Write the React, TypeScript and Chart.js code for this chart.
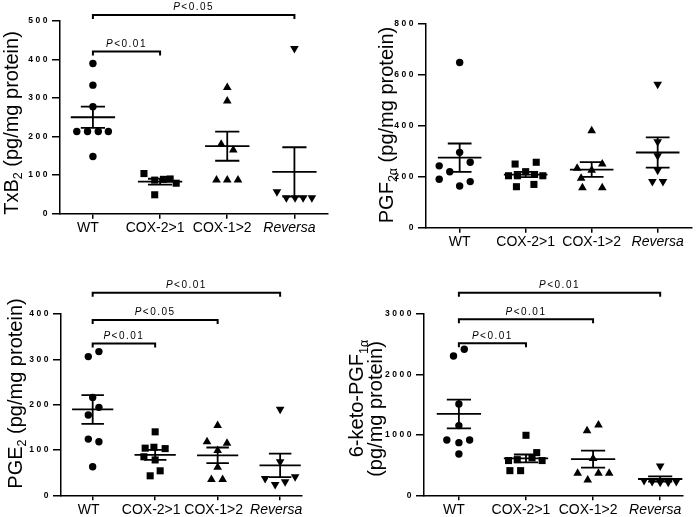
import React, { useEffect, useRef } from 'react';
import { Chart, registerables, LinearScale } from 'chart.js';

Chart.register(...registerables);

class SpacedLinearScale extends LinearScale {
  static id = 'spacedLinear';
  static defaults = { ...(LinearScale as any).defaults };
  drawLabels(area: any) {
    const ctx = (this as any).ctx;
    ctx.save();
    ctx.letterSpacing = '2.5px';
    super.drawLabels(area);
    ctx.restore();
  }
}
Chart.register(SpacedLinearScale as any);

const FONT = '"Liberation Sans", Arial, Helvetica, sans-serif';

// ---------- categories ----------
const groups = ['WT', 'COX-2>1', 'COX-1>2', 'Reversa'];

// ---------- TxB2 ----------
const txb2WT = [389, 333, 277, 213, 213, 213, 213, 148];
const txb2WTDx = [0, 0, 0, -0.24, -0.08, 0.08, 0.23, 0];
const txb2C21 = [104, 87, 89, 90, 79, 49];
const txb2C21Dx = [-0.24, -0.08, 0.05, 0.15, 0.24, -0.08];
const txb2C12 = [327, 292, 180, 165, 87, 87, 87];
const txb2C12Dx = [0, 0, -0.09, 0.09, -0.16, 0, 0.16];
const txb2Rev = [428, 57, 41, 41, 41, 41];
const txb2RevDx = [0, -0.26, -0.12, 0.01, 0.13, 0.26];
const txb2Sig = [[0, 1, 420, '<0.01'], [0, 3, 515, '<0.05']];

// ---------- PGF2a ----------
const pgfWT = [649, 296, 257, 243, 220, 190, 181, 164];
const pgfWTDx = [0, 0, 0.16, -0.31, -0.15, -0.31, 0.16, 0];
const pgfC21 = [257, 250, 220, 209, 204, 204, 204, 170, 161];
const pgfC21Dx = [0.16, -0.16, 0, 0.135, -0.26, -0.125, 0.26, 0.125, -0.14];
const pgfC12 = [381, 250, 233, 226, 194, 157, 157];
const pgfC12Dx = [0, 0.16, -0.22, 0, -0.16, -0.14, 0.16];
const pgfRev = [563, 338, 283, 226, 181, 181];
const pgfRevDx = [0, 0, 0, 0, -0.08, 0.08];
const pgfSig: any[] = [];

// ---------- PGE2 ----------
const pgeWT = [317, 306, 216, 194, 177, 124, 118, 63];
const pgeWTDx = [0.1, -0.07, 0, 0.1, -0.07, -0.07, 0.1, 0];
const pgeC21 = [140, 106, 104, 103, 85, 78, 54, 43];
const pgeC21Dx = [0, -0.02, -0.16, 0.16, -0.18, 0, 0.08, -0.08];
const pgeC12 = [154, 118, 115, 99, 62, 35, 35];
const pgeC12Dx = [0, -0.17, 0.15, 0, 0, -0.1, 0.08];
const pgeRev = [190, 74, 41, 37, 30, 24];
const pgeRevDx = [0, 0, 0.24, -0.24, 0.08, -0.08];
const pgeSig = [[0, 1, 335, '<0.01'], [0, 2, 387, '<0.05'], [0, 3, 447, '<0.01']];

// ---------- 6-keto-PGF1a ----------
const ketoWT = [2416, 2305, 1511, 1153, 916, 916, 871, 684];
const ketoWTDx = [0.08, -0.08, 0, 0, -0.18, 0.16, 0, 0];
const ketoC21 = [993, 706, 620, 590, 575, 575, 408, 408];
const ketoC21Dx = [0, 0.16, 0.09, -0.13, -0.26, 0.24, -0.24, -0.08];
const ketoC12 = [1164, 1070, 607, 364, 364, 364, 254];
const ketoC12Dx = [0.08, -0.09, 0, -0.23, 0.08, 0.24, -0.08];
const ketoRev = [485, 245, 230, 215, 215, 230];
const ketoRevDx = [0, -0.24, -0.12, 0, 0.12, 0.24];
const ketoSig = [[0, 1, 2515, '<0.01'], [0, 2, 2912, '<0.01'], [0, 3, 3352, '<0.01']];

// ---------- titles ----------
const txb2Title = [[['TxB', 0], ['2', 1], [' (pg/mg protein)', 0]]];
const pgfTitle = [[['PGF', 0], ['2\u03b1', 1], [' (pg/mg protein)', 0]]];
const pgeTitle = [[['PGE', 0], ['2', 1], [' (pg/mg protein)', 0]]];
const ketoTitle = [[['6-keto-PGF', 0], ['1\u03b1', 1]], [['(pg/mg protein)', 0]]];

const shapes = ['circle', 'rect', 'triangle', 'triangle'];
const rotations = [0, 0, 0, 180];
const radii = [3.7, 5, 5, 5];

const Y_W = 40;
const X_H = 30;

const panels = [
  {
    key: 'txb2', box: { left: 0, top: 0, width: 345, height: 250 },
    area: { left: 60, top: 20.7, right: 328, bottom: 213.7 },
    xMin: -0.49, xMax: 3.5, yMax: 500, yStep: 100, labelOffset: -5,
    values: [txb2WT, txb2C21, txb2C12, txb2Rev], dx: [txb2WTDx, txb2C21Dx, txb2C12Dx, txb2RevDx],
    sig: txb2Sig, title: txb2Title, titlePos: [[17.5, 123]],
  },
  {
    key: 'pgf', box: { left: 345, top: 0, width: 352, height: 250 },
    area: { left: 426, top: 24, right: 695, bottom: 227.7 },
    xMin: -0.51, xMax: 3.52, yMax: 800, yStep: 200, labelOffset: 0,
    values: [pgfWT, pgfC21, pgfC12, pgfRev], dx: [pgfWTDx, pgfC21Dx, pgfC12Dx, pgfRevDx],
    sig: pgfSig, title: pgfTitle, titlePos: [[47.7, 125]],
  },
  {
    key: 'pge', box: { left: 0, top: 250, width: 340, height: 267 },
    area: { left: 61, top: 314, right: 302, bottom: 495.3 },
    xMin: -0.507, xMax: 3.35, yMax: 400, yStep: 100, labelOffset: -4,
    values: [pgeWT, pgeC21, pgeC12, pgeRev], dx: [pgeWTDx, pgeC21Dx, pgeC12Dx, pgeRevDx],
    sig: pgeSig, title: pgeTitle, titlePos: [[21.5, 143.5]],
  },
  {
    key: 'keto', box: { left: 340, top: 250, width: 357, height: 267 },
    area: { left: 424, top: 314, right: 683, bottom: 495.3 },
    xMin: -0.52, xMax: 3.34, yMax: 3000, yStep: 1000, labelOffset: -5,
    values: [ketoWT, ketoC21, ketoC12, ketoRev], dx: [ketoWTDx, ketoC21Dx, ketoC12Dx, ketoRevDx],
    sig: ketoSig, title: ketoTitle, titlePos: [[23, 148.5], [41.7, 159]],
  },
];

function stats(vals: number[]) {
  const n = vals.length;
  const mean = vals.reduce((a, b) => a + b, 0) / n;
  const sd = Math.sqrt(vals.reduce((a, b) => a + (b - mean) * (b - mean), 0) / (n - 1));
  return { mean, sem: sd / Math.sqrt(n) };
}

function makeOverlay(p: any) {
  return {
    id: 'overlay_' + p.key,
    afterDatasetsDraw(chart: any) {
      const { ctx } = chart;
      const x = chart.scales.x;
      const y = chart.scales.y;
      ctx.save();
      ctx.strokeStyle = '#000';
      ctx.lineCap = 'butt';
      // mean ± SEM
      p.values.forEach((vals: number[], i: number) => {
        const { mean, sem } = stats(vals);
        const cx = x.getPixelForValue(i);
        const hw = x.getPixelForValue(i + 0.33) - cx;
        const cw = x.getPixelForValue(i + 0.18) - cx;
        const ym = y.getPixelForValue(mean);
        const yt = y.getPixelForValue(mean + sem);
        const yb = y.getPixelForValue(mean - sem);
        ctx.lineWidth = 1.8;
        ctx.beginPath();
        ctx.moveTo(cx - hw, ym); ctx.lineTo(cx + hw, ym);
        ctx.moveTo(cx - cw, yt); ctx.lineTo(cx + cw, yt);
        ctx.moveTo(cx - cw, yb); ctx.lineTo(cx + cw, yb);
        ctx.moveTo(cx, yt); ctx.lineTo(cx, yb);
        ctx.stroke();
      });
      // significance brackets
      p.sig.forEach((s: any[]) => {
        const [a, b, v, lbl] = s;
        const x1 = x.getPixelForValue(a);
        const x2 = x.getPixelForValue(b);
        const yy = y.getPixelForValue(v);
        ctx.lineWidth = 2;
        ctx.beginPath();
        ctx.moveTo(x1, yy + 4); ctx.lineTo(x1, yy); ctx.lineTo(x2, yy); ctx.lineTo(x2, yy + 4);
        ctx.stroke();
        ctx.fillStyle = '#000';
        ctx.textBaseline = 'alphabetic';
        ctx.textAlign = 'left';
        ctx.letterSpacing = '1.5px';
        ctx.font = `italic 10px ${FONT}`;
        const wP = ctx.measureText('P').width;
        ctx.font = `10px ${FONT}`;
        const wR = ctx.measureText(lbl).width;
        const start = (x1 + x2) / 2 - (wP + wR) / 2;
        ctx.font = `italic 10px ${FONT}`;
        ctx.fillText('P', start, yy - 4.5);
        ctx.font = `10px ${FONT}`;
        ctx.fillText(lbl, start + wP, yy - 4.5);
        ctx.letterSpacing = '0px';
      });
      ctx.restore();
    },
    afterDraw(chart: any) {
      const { ctx } = chart;
      p.title.forEach((line: any[], li: number) => {
        const [bx, cy] = p.titlePos[li];
        ctx.save();
        ctx.translate(bx, cy);
        ctx.rotate(-Math.PI / 2);
        ctx.fillStyle = '#000';
        ctx.textBaseline = 'alphabetic';
        ctx.textAlign = 'left';
        const fonts = [`20px ${FONT}`, `12.5px ${FONT}`];
        let total = 0;
        const widths = line.map(([t, sub]: any) => {
          ctx.font = fonts[sub];
          const w = ctx.measureText(t).width;
          total += w;
          return w;
        });
        let cur = -total / 2;
        line.forEach(([t, sub]: any, k: number) => {
          ctx.font = fonts[sub];
          ctx.fillText(t, cur, sub ? 4.5 : 0);
          cur += widths[k];
        });
        ctx.restore();
      });
    },
  };
}

function Panel({ p }: { p: any }) {
  const ref = useRef<HTMLCanvasElement>(null);
  useEffect(() => {
    const canvas = ref.current!;
    const { box, area } = p;
    const datasets = groups.map((g, i) => ({
      label: g,
      data: p.values[i].map((v: number, j: number) => ({ x: i + p.dx[i][j], y: v })),
      pointStyle: shapes[i],
      rotation: rotations[i],
      pointRadius: radii[i],
      pointHoverRadius: radii[i],
      backgroundColor: '#000',
      borderColor: '#000',
      pointBorderWidth: 0,
      borderWidth: 0,
      showLine: false,
      clip: false,
    }));
    const chart = new Chart(canvas, {
      type: 'scatter',
      data: { datasets },
      options: {
        responsive: false,
        animation: false,
        events: [],
        layout: {
          padding: {
            left: area.left - box.left - Y_W,
            top: area.top - box.top,
            right: box.left + box.width - area.right,
            bottom: box.top + box.height - area.bottom - X_H,
          },
        },
        plugins: { legend: { display: false }, tooltip: { enabled: false }, title: { display: false } },
        scales: {
          x: {
            type: 'linear',
            min: p.xMin,
            max: p.xMax,
            afterBuildTicks: (s: any) => { s.ticks = groups.map((_, i) => ({ value: i })); },
            afterFit: (s: any) => { s.height = X_H; },
            ticks: {
              autoSkip: false,
              maxRotation: 0,
              padding: 1,
              labelOffset: p.labelOffset,
              color: '#000',
              callback: (_v: any, i: number) => groups[i],
              font: (c: any) => ({ family: FONT, size: 14, style: groups[c.index] === 'Reversa' ? 'italic' : 'normal' }),
            },
            grid: { drawOnChartArea: false, drawTicks: true, tickLength: 5, color: '#000', lineWidth: 1.5 },
            border: { display: true, color: '#000', width: 1.5 },
          },
          y: {
            type: 'spacedLinear' as any,
            min: 0,
            max: p.yMax,
            afterFit: (s: any) => { s.width = Y_W; },
            ticks: {
              stepSize: p.yStep,
              padding: 2,
              color: '#000',
              callback: (v: any) => String(v),
              font: { family: FONT, size: 8.5, weight: 'bold' },
            },
            grid: { drawOnChartArea: false, drawTicks: true, tickLength: 8, color: '#000', lineWidth: 1.5 },
            border: { display: true, color: '#000', width: 1.5 },
          },
        },
      },
      plugins: [makeOverlay(p)],
    } as any);
    return () => chart.destroy();
  }, [p]);
  return (
    <canvas
      ref={ref}
      width={p.box.width}
      height={p.box.height}
      style={{ position: 'absolute', left: p.box.left, top: p.box.top, width: p.box.width, height: p.box.height, display: 'block' }}
    />
  );
}

export default function App() {
  return (
    <div style={{ position: 'absolute', left: 0, top: 0, width: 697, height: 517, background: '#fff', overflow: 'hidden' }}>
      {panels.map((p) => <Panel key={p.key} p={p} />)}
    </div>
  );
}
